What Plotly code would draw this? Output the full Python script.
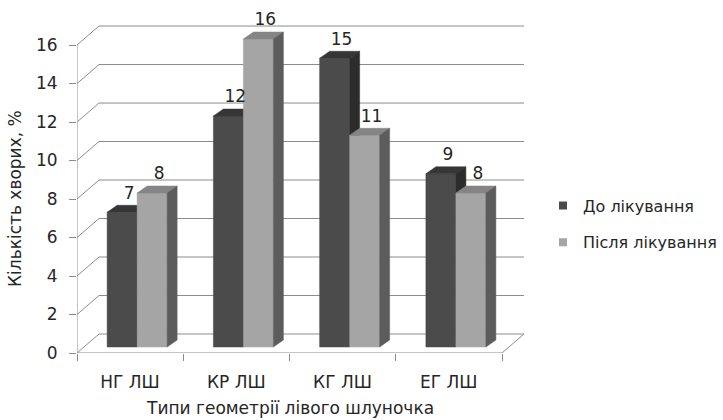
import plotly.graph_objects as go

# ---- data ----
categories = ["НГ ЛШ", "КР ЛШ", "КГ ЛШ", "ЕГ ЛШ"]
series_names = ["До лікування", "Після лікування"]
before = [7, 12, 15, 9]
after = [8, 16, 11, 8]
y_ticks = [0, 2, 4, 6, 8, 10, 12, 14, 16]
x_title = "Типи геометрії лівого шлуночка"
y_title = "Кількість хворих, %"

# ---- layout constants ----
W, H = 723, 420
ML, MR, MT, MB = 77, 193, 20, 67
NCAT = len(categories)
XMAX = 4.2635
YMAX = 17.3
pw = W - ML - MR
ph = H - MT - MB
ux = pw / XMAX
uy = ph / YMAX


def px_x(p):
    return p / ux


def px_y(p):
    return p / uy


wall_dx, wall_dy = px_x(22), px_y(19)
bar_ox, bar_oy = px_x(7), px_y(6)
bar_dx, bar_dy = px_x(10), px_y(7)
bar_w = px_x(30)

FONT = "DejaVu Sans"
FS = 17
TXT = "#262626"
GRID = "#8c8c8c"
colors = {
    0: dict(front="#4b4b4b", top="#363636", side="#2c2c2c", legend="#4b4b4b"),
    1: dict(front="#a5a5a5", top="#858585", side="#5c5c5c", legend="#a5a5a5"),
}

fig = go.Figure()

# back wall, left wall gridlines
gx, gy = [], []
for v in y_ticks:
    gx += [0, wall_dx, NCAT + wall_dx, None]
    gy += [v, v + wall_dy, v + wall_dy, None]
# floor front and right edges
gx += [0, NCAT, NCAT + wall_dx, None]
gy += [0, 0, wall_dy, None]
# front vertical axis line
gx += [0, 0, None]
gy += [0, y_ticks[-1], None]
fig.add_trace(go.Scatter(x=gx, y=gy, mode="lines", line=dict(color=GRID, width=1),
                         hoverinfo="skip", showlegend=False))

# bars (3D faces)
label_x, label_y, label_t = [], [], []
for s, vals in enumerate([before, after]):
    faces = {"front": ([], []), "top": ([], []), "side": ([], [])}
    for i, v in enumerate(vals):
        c = i + 0.5 + bar_ox
        x0 = c - bar_w if s == 0 else c
        x1 = x0 + bar_w
        b = bar_oy
        t = b + v
        fx, fy = faces["front"]
        fx += [x0, x1, x1, x0, x0, None]
        fy += [b, b, t, t, b, None]
        tx, ty = faces["top"]
        tx += [x0, x1, x1 + bar_dx, x0 + bar_dx, x0, None]
        ty += [t, t, t + bar_dy, t + bar_dy, t, None]
        sx, sy = faces["side"]
        sx += [x1, x1 + bar_dx, x1 + bar_dx, x1, x1, None]
        sy += [b, b + bar_dy, t + bar_dy, t, b, None]
        label_x.append((x0 + x1) / 2 + bar_dx * 0.7)
        label_y.append(t + bar_dy + px_y(11))
        label_t.append(str(v))
    for face in ["front", "top", "side"]:
        xs, ys = faces[face]
        col = colors[s][face]
        fig.add_trace(go.Scatter(x=xs, y=ys, mode="lines", fill="toself",
                                 fillcolor=col, line=dict(color=col, width=0.5),
                                 hoverinfo="skip", showlegend=False))

# data labels
fig.add_trace(go.Scatter(x=label_x, y=label_y, mode="text", text=label_t,
                         textposition="middle center",
                         textfont=dict(family=FONT, size=FS, color=TXT),
                         cliponaxis=False, hoverinfo="skip", showlegend=False))

# legend entries
for s, name in enumerate(series_names):
    fig.add_trace(go.Scatter(x=[None], y=[None], mode="markers", name=name,
                             legendgroup=name,
                             marker=dict(symbol="square", size=8, color=colors[s]["legend"])))

fig.update_layout(
    width=W, height=H,
    margin=dict(l=ML, r=MR, t=MT, b=MB),
    paper_bgcolor="white", plot_bgcolor="white",
    font=dict(family=FONT, size=FS, color=TXT),
    showlegend=True,
    legend=dict(xref="container", yref="container",
                x=543 / W, xanchor="left",
                y=(H - 224) / H, yanchor="middle",
                traceorder="grouped", tracegroupgap=13,
                font=dict(family=FONT, size=16, color=TXT),
                bgcolor="rgba(0,0,0,0)"),
    xaxis=dict(range=[0, XMAX], tickvals=list(range(NCAT + 1)),
               ticktext=categories + [""], ticks="outside", ticklen=7,
               tickcolor=GRID, ticklabelshift=int(round(ux * 0.5)), ticklabelstandoff=7,
               showgrid=False, zeroline=False, showline=False, automargin=False,
               fixedrange=True),
    yaxis=dict(range=[0, YMAX], tickvals=y_ticks, ticks="outside", ticklen=7,
               tickcolor=GRID, ticklabelstandoff=8,
               showgrid=False, zeroline=False, showline=False, automargin=False,
               fixedrange=True),
    annotations=[
        dict(text=x_title, xref="x", x=NCAT / 2, yref="paper", y=(H - MB - 408) / ph,
             yanchor="middle", xanchor="center", showarrow=False,
             font=dict(family=FONT, size=FS, color=TXT)),
        dict(text=y_title, xref="paper", x=(15 - ML) / pw, yref="y", y=y_ticks[-1] / 2,
             textangle=-90, xanchor="center", yanchor="middle", showarrow=False,
             font=dict(family=FONT, size=FS, color=TXT)),
    ],
)

fig.write_html("out.html")
